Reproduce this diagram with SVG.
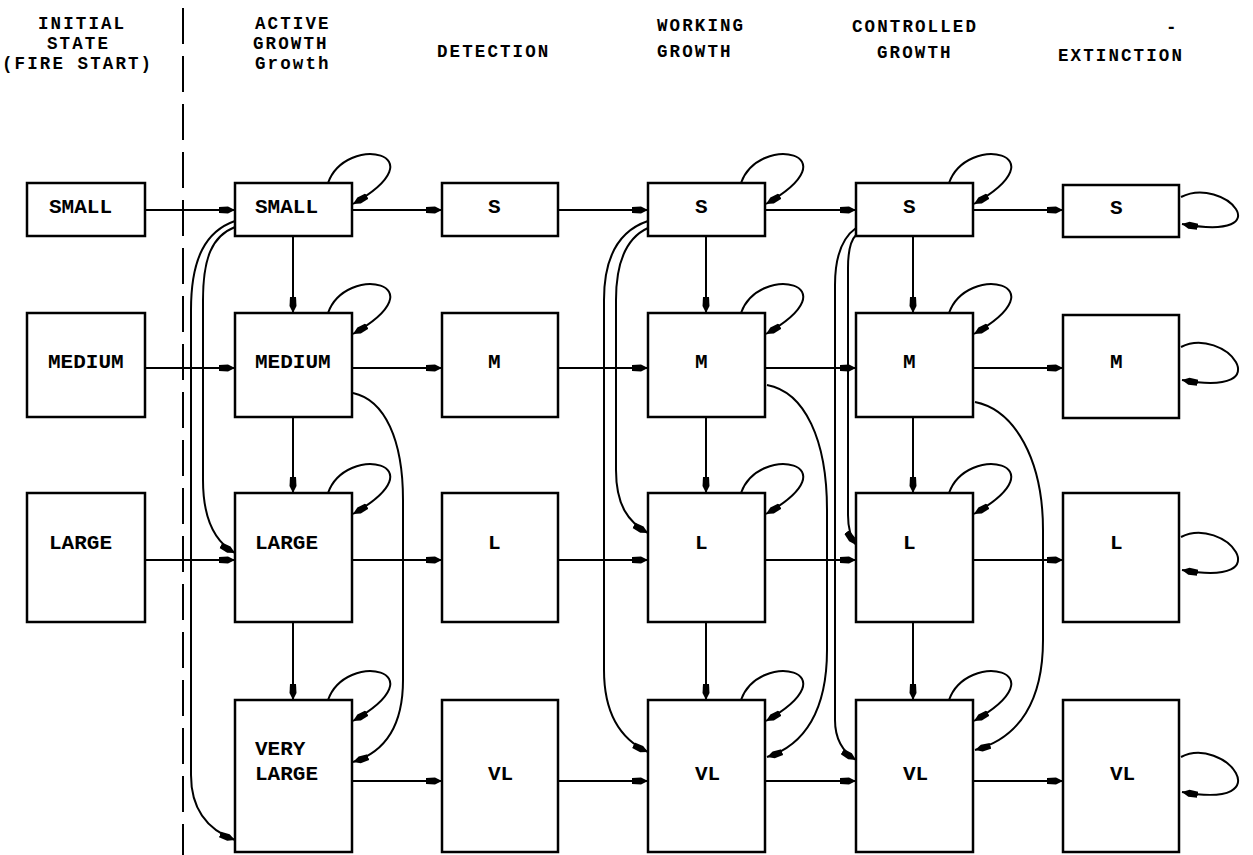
<svg xmlns="http://www.w3.org/2000/svg" width="1253" height="855" viewBox="0 0 1253 855">
<style>
.t{font-family:"Liberation Mono","DejaVu Sans Mono",monospace;font-weight:bold;font-size:21px;fill:#000}
.h{font-family:"Liberation Mono","DejaVu Sans Mono",monospace;font-weight:bold;font-size:17.5px;letter-spacing:2.1px;fill:#000}
.box{fill:#fff;stroke:#000;stroke-width:2.5}
.c{fill:none;stroke:#000;stroke-width:2}
.a{marker-end:url(#ah)}
.sep{fill:none;stroke:#000;stroke-width:2;stroke-dasharray:36 12}
</style>
<defs>
<marker id="ah" markerUnits="userSpaceOnUse" markerWidth="17" markerHeight="9" refX="16" refY="4.5" orient="auto">
<path d="M0,1.5 L9,1 L16,4.5 L9,8 L0,7.5 Z" fill="#000"/>
</marker>
</defs>
<rect width="1253" height="855" fill="#fff"/>

<g id="headers">
<text class="h" x="38" y="29">INITIAL</text>
<text class="h" x="47" y="49">STATE</text>
<text class="h" x="2" y="69">(FIRE START)</text>
<text class="h" x="255" y="29">ACTIVE</text>
<text class="h" x="253" y="49">GROWTH</text>
<text class="h" x="255" y="69">Growth</text>
<text class="h" x="437" y="57">DETECTION</text>
<text class="h" x="657" y="31">WORKING</text>
<text class="h" x="657" y="57">GROWTH</text>
<text class="h" x="852" y="32">CONTROLLED</text>
<text class="h" x="877" y="58">GROWTH</text>
<text class="h" x="1166" y="33">-</text>
<text class="h" x="1058" y="61">EXTINCTION</text>
</g>

<line id="separator" class="sep" x1="183" y1="8" x2="183" y2="855"/>

<g id="connectors">
<!-- row 1 -->
<path class="c a" d="M145,210 H235"/>
<path class="c a" d="M352,210 H442"/>
<path class="c a" d="M558,210 H648"/>
<path class="c a" d="M765,210 H856"/>
<path class="c a" d="M973,210 H1063"/>
<!-- row 2 -->
<path class="c a" d="M145,368 H235"/>
<path class="c a" d="M352,368 H442"/>
<path class="c a" d="M558,368 H648"/>
<path class="c a" d="M765,368 H856"/>
<path class="c a" d="M973,368 H1063"/>
<!-- row 3 -->
<path class="c a" d="M145,560 H235"/>
<path class="c a" d="M352,560 H442"/>
<path class="c a" d="M558,560 H648"/>
<path class="c a" d="M765,560 H856"/>
<path class="c a" d="M973,560 H1063"/>
<!-- row 4 -->
<path class="c a" d="M352,781 H442"/>
<path class="c a" d="M558,781 H648"/>
<path class="c a" d="M765,781 H856"/>
<path class="c a" d="M973,781 H1063"/>
<!-- vertical -->
<path class="c a" d="M293,236 V313"/>
<path class="c a" d="M293,417 V493"/>
<path class="c a" d="M293,622 V700"/>
<path class="c a" d="M706,236 V313"/>
<path class="c a" d="M706,417 V493"/>
<path class="c a" d="M706,622 V700"/>
<path class="c a" d="M913,236 V313"/>
<path class="c a" d="M913,417 V493"/>
<path class="c a" d="M913,622 V700"/>
<!-- self loops col1 -->
<path class="c a" d="M328,183 C346,133 442,153 353,204"/>
<path class="c a" d="M328,313 C346,263 442,283 353,334"/>
<path class="c a" d="M328,493 C346,443 442,463 353,514"/>
<path class="c a" d="M328,700 C346,650 442,670 353,721"/>
<!-- self loops col3 -->
<path class="c a" d="M741,183 C759,133 855,153 766,204"/>
<path class="c a" d="M741,313 C759,263 855,283 766,334"/>
<path class="c a" d="M741,493 C759,443 855,463 766,514"/>
<path class="c a" d="M741,700 C759,650 855,670 766,721"/>
<!-- self loops col4 -->
<path class="c a" d="M949,183 C967,133 1063,153 974,204"/>
<path class="c a" d="M949,313 C967,263 1063,283 974,334"/>
<path class="c a" d="M949,493 C967,443 1063,463 974,514"/>
<path class="c a" d="M949,700 C967,650 1063,670 974,721"/>
<!-- self loops col5 -->
<path class="c a" d="M1181,197 C1224,175 1284,242 1182,224"/>
<path class="c a" d="M1181,347 C1224,325 1284,398 1182,380"/>
<path class="c a" d="M1181,537 C1224,515 1284,588 1182,570"/>
<path class="c a" d="M1181,757 C1224,735 1284,810 1182,792"/>
<!-- skip arcs col1 -->
<path class="c a" d="M235,227 C212,236 203,258 203,300 L203,480 C203,520 215,542 235,553"/>
<path class="c a" d="M235,221 C206,231 191,258 191,310 L191,775 C191,810 208,830 235,840"/>
<path class="c a" d="M353,393 C385,400 403,440 403,500 L403,680 C403,725 385,752 353,762"/>
<!-- skip arcs col3 -->
<path class="c a" d="M648,228 C626,238 616,262 616,300 L616,470 C616,505 628,522 648,533"/>
<path class="c a" d="M648,221 C618,231 604,258 604,300 L604,670 C604,715 622,740 648,752"/>
<path class="c a" d="M767,385 C805,392 827,440 827,510 L827,650 C827,710 805,745 767,757"/>
<!-- skip arcs col4 -->
<path class="c a" d="M856,235 C850,241 848,252 848,268 L848,515 C848,530 851,538 856,545"/>
<path class="c a" d="M856,228 C842,238 835,256 835,285 L835,720 C835,740 843,752 856,760"/>
<path class="c a" d="M975,402 C1015,410 1043,460 1043,530 L1043,640 C1043,700 1020,738 975,750"/>
</g>

<!-- initial state -->
<g id="init-small"><rect class="box" x="27" y="183" width="118" height="53"/><text class="t" x="49" y="213">SMALL</text></g>
<g id="init-medium"><rect class="box" x="27" y="313" width="118" height="104"/><text class="t" x="48" y="368">MEDIUM</text></g>
<g id="init-large"><rect class="box" x="27" y="493" width="118" height="129"/><text class="t" x="49" y="549">LARGE</text></g>
<!-- active growth -->
<g id="active-small"><rect class="box" x="235" y="183" width="117" height="53"/><text class="t" x="255" y="213">SMALL</text></g>
<g id="active-medium"><rect class="box" x="235" y="313" width="117" height="104"/><text class="t" x="255" y="368">MEDIUM</text></g>
<g id="active-large"><rect class="box" x="235" y="493" width="117" height="129"/><text class="t" x="255" y="549">LARGE</text></g>
<g id="active-verylarge"><rect class="box" x="235" y="700" width="117" height="152"/><text class="t" x="255" y="755">VERY</text><text class="t" x="255" y="780">LARGE</text></g>
<!-- detection -->
<g id="det-s"><rect class="box" x="442" y="183" width="116" height="53"/><text class="t" x="488" y="213">S</text></g>
<g id="det-m"><rect class="box" x="442" y="313" width="116" height="104"/><text class="t" x="488" y="368">M</text></g>
<g id="det-l"><rect class="box" x="442" y="493" width="116" height="129"/><text class="t" x="488" y="549">L</text></g>
<g id="det-vl"><rect class="box" x="442" y="700" width="116" height="152"/><text class="t" x="488" y="780">VL</text></g>
<!-- working growth -->
<g id="work-s"><rect class="box" x="648" y="183" width="117" height="53"/><text class="t" x="695" y="213">S</text></g>
<g id="work-m"><rect class="box" x="648" y="313" width="117" height="104"/><text class="t" x="695" y="368">M</text></g>
<g id="work-l"><rect class="box" x="648" y="493" width="117" height="129"/><text class="t" x="695" y="549">L</text></g>
<g id="work-vl"><rect class="box" x="648" y="700" width="117" height="152"/><text class="t" x="695" y="780">VL</text></g>
<!-- controlled growth -->
<g id="ctrl-s"><rect class="box" x="856" y="183" width="117" height="53"/><text class="t" x="903" y="213">S</text></g>
<g id="ctrl-m"><rect class="box" x="856" y="313" width="117" height="104"/><text class="t" x="903" y="368">M</text></g>
<g id="ctrl-l"><rect class="box" x="856" y="493" width="117" height="129"/><text class="t" x="903" y="549">L</text></g>
<g id="ctrl-vl"><rect class="box" x="856" y="700" width="117" height="152"/><text class="t" x="903" y="780">VL</text></g>
<!-- extinction -->
<g id="ext-s"><rect class="box" x="1063" y="185" width="116" height="52"/><text class="t" x="1110" y="214">S</text></g>
<g id="ext-m"><rect class="box" x="1063" y="315" width="116" height="103"/><text class="t" x="1110" y="368">M</text></g>
<g id="ext-l"><rect class="box" x="1063" y="493" width="116" height="129"/><text class="t" x="1110" y="549">L</text></g>
<g id="ext-vl"><rect class="box" x="1063" y="700" width="116" height="152"/><text class="t" x="1110" y="780">VL</text></g>
</svg>
